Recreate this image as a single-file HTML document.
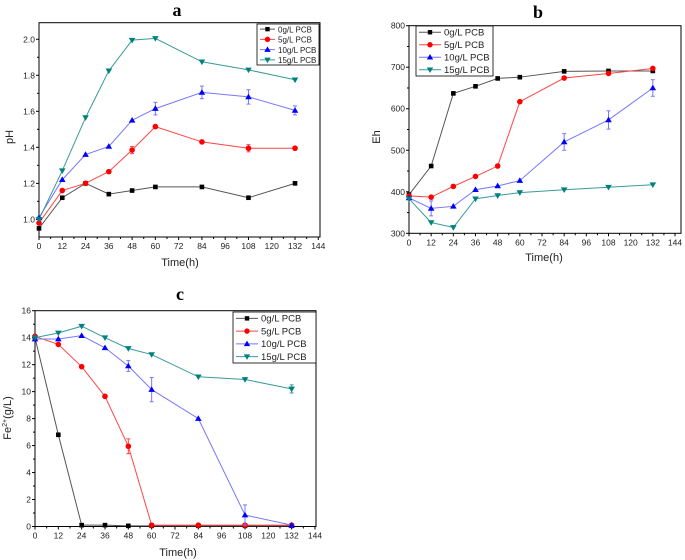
<!DOCTYPE html>
<html><head><meta charset="utf-8"><style>
body{margin:0;background:#fff;width:685px;height:560px;overflow:hidden}
svg{position:absolute;left:0;top:0}
text{font-family:"Liberation Sans",sans-serif}
</style></head><body>
<svg id="fig" width="685" height="560"></svg>
<script>
const timesH=[0,12,24,36,48,60,84,108,132];
const seriesNames=["0g/L PCB","5g/L PCB","10g/L PCB","15g/L PCB"];
const phVals=[[0.95,1.12,1.20,1.14,1.16,1.18,1.18,1.12,1.20],[0.98,1.16,1.20,1.265,1.385,1.515,1.43,1.395,1.395],[1.01,1.22,1.36,1.405,1.55,1.615,1.705,1.68,1.605],[1.00,1.27,1.565,1.825,1.995,2.005,1.875,1.83,1.775]];
const phErr=[[0,0,0,0,0,0,0,0,0],[0,0,0,0,0.02,0,0,0.02,0],[0,0,0,0,0,0.035,0.035,0.04,0.025],[0,0,0,0,0,0,0,0,0]];
const ehVals=[[393,462,637,654,673,676,690,691,691],[390,387,413,437,462,617,674,685,697],[385,360,365,405,414,427,520,573,650],[383,326,314,383,391,398,405,411,417]];
const ehErr=[[0,0,0,0,0,0,0,0,0],[0,0,0,0,0,0,0,0,0],[0,18,0,0,0,0,20,22,20],[0,0,0,0,0,0,0,0,0]];
const feVals=[[14,6.8,0.1,0.1,0.05,0.05,0.05,0.05,0.05],[14.1,13.5,11.85,9.65,5.95,0.1,0.1,0.1,0.1],[13.9,13.9,14.15,13.25,11.9,10.15,8.0,0.85,0.1],[14.0,14.35,14.85,14.0,13.2,12.75,11.1,10.9,10.2]];
const feErr=[[0,0,0,0,0,0,0,0,0],[0,0,0,0,0.55,0,0,0,0],[0,0,0,0,0.4,0.9,0,0.75,0],[0,0,0,0,0,0,0,0,0.3]];
const xTicks=[0,12,24,36,48,60,72,84,96,108,120,132,144];
const phTicks=[1.0,1.2,1.4,1.6,1.8,2.0];
const ehTicks=[300,400,500,600,700,800];
const feTicks=[0,2,4,6,8,10,12,14,16];
const phTickLabels=["1.0","1.2","1.4","1.6","1.8","2.0"];

const NS="http://www.w3.org/2000/svg";
const svg=document.getElementById('fig');
const markerCol=["#000","#f00","#00f","#008080"];
const lineCol=["#555","#f44","#77f","#3a9a9a"];
function el(tag,attrs,parent){const e=document.createElementNS(NS,tag);for(const k in attrs)e.setAttribute(k,attrs[k]);(parent||svg).appendChild(e);return e;}
function marker(g,i,x,y,s){
  let m;
  if(i===0)m=el('rect',{x:x-s,y:y-s,width:2*s,height:2*s,fill:markerCol[0]},g);
  else if(i===1)m=el('circle',{cx:x,cy:y,r:s+0.5,fill:markerCol[1]},g);
  else if(i===2)m=el('polygon',{points:`${x},${y-s-1} ${x-s-1},${y+s} ${x+s+1},${y+s}`,fill:markerCol[2]},g);
  else m=el('polygon',{points:`${x},${y+s+1} ${x-s-1},${y-s} ${x+s+1},${y-s}`,fill:markerCol[3]},g);
  return m;
}
function chart(o){
  const g=el('g',{});
  
  
  const X=v=>o.x0+(v-0)/(o.xmax)*(o.x1-o.x0);
  const Y=v=>o.yb-(v-o.ymin)/(o.ymax-o.ymin)*(o.yb-o.yt);
  const box=el('rect',{x:o.x0,y:o.yt,width:o.bx1-o.x0,height:o.yb-o.yt,fill:"none",stroke:"#000","stroke-width":1},g);
  
  xTicks.forEach((t,k)=>{const px=X(t);
    el('line',{x1:px,x2:px,y1:o.yb,y2:o.yb+3,stroke:"#000"},g);
    if(k<xTicks.length-1){const m=X(t+6);el('line',{x1:m,x2:m,y1:o.yb,y2:o.yb+2,stroke:"#000"},g);}
    const tl=el('text',{x:px,y:o.yb+12,"font-size":8.5,"text-anchor":"middle",fill:"#222"},g);tl.textContent=t;
    
  });
  o.yTicks.forEach((t,k)=>{const py=Y(t);
    el('line',{x1:o.x0-3,x2:o.x0,y1:py,y2:py,stroke:"#000"},g);
    if(k<o.yTicks.length-1){const m=Y((t+o.yTicks[k+1])/2);el('line',{x1:o.x0-2,x2:o.x0,y1:m,y2:m,stroke:"#000"},g);}
    const tl=el('text',{x:o.x0-4,y:py+3,"font-size":8.5,"text-anchor":"end",fill:"#222"},g);tl.textContent=o.yLabels?o.yLabels[k]:t;
    
  });
  const xt=el('text',{x:o.xlx,y:o.xly,"font-size":11,"text-anchor":"middle",fill:"#222"},g);xt.textContent="Time(h)";
  
  const yt=el('text',{x:0,y:0,"font-size":11,"text-anchor":"middle",fill:"#222",transform:`translate(${o.ylx},${o.yly}) rotate(-90)`},g);
  yt.innerHTML=o.ylabel;
  
  const tt=el('text',{x:o.tx,y:o.ty,"font-size":18,"font-weight":"bold","text-anchor":"middle",style:"font-family:'Liberation Serif',serif"},g);tt.textContent=o.title;
  
  o.vals.forEach((sv,i)=>{
    const pts=sv.map((v,j)=>`${X(timesH[j])},${Y(v)}`).join(' ');
    const pl=el('polyline',{points:pts,fill:"none",stroke:lineCol[i],"stroke-width":1},g);
    
    sv.forEach((v,j)=>{const e=o.err[i][j];
      if(e>0){const px=X(timesH[j]);
        el('line',{x1:px,x2:px,y1:Y(v+e),y2:Y(v-e),stroke:lineCol[i]},g);
        el('line',{x1:px-2,x2:px+2,y1:Y(v+e),y2:Y(v+e),stroke:lineCol[i]},g);
        el('line',{x1:px-2,x2:px+2,y1:Y(v-e),y2:Y(v-e),stroke:lineCol[i]},g);}
      const m=marker(g,i,X(timesH[j]),Y(v),2.3);
      
    });
  });
  const L=o.leg;
  const lb=el('rect',{x:L.x,y:L.y,width:L.w,height:L.h,fill:"#fff",stroke:"#000","stroke-width":0.8},g);
  
  const rh=L.h/4;
  seriesNames.forEach((n,i)=>{const cy=L.y+rh*(i+0.5);
    el('line',{x1:L.x+3,x2:L.x+L.sw,y1:cy,y2:cy,stroke:lineCol[i]},g);
    marker(g,i,L.x+3+(L.sw-3)/2,cy,2.2);
    const t=el('text',{x:L.x+L.sw+3,y:cy+3.3,"font-size":L.fs,fill:"#222"},g);t.textContent=n;
    
  });
}
chart({name:'ph-chart',x0:39,x1:318.3,bx1:320,xmax:144,yt:22.7,yb:237,ymin:0.902,ymax:2.092,yTicks:phTicks,yLabels:phTickLabels,
  vals:phVals,err:phErr,title:'a',tx:177,ty:16,ylabel:'pH',ylx:13,yly:137,xlx:180,xly:266,
  leg:{x:257,y:24,w:62,h:41,sw:18,fs:8}});
chart({name:'eh-chart',x0:409,x1:675,bx1:681,xmax:144,yt:25.7,yb:233.3,ymin:300,ymax:800,yTicks:ehTicks,
  vals:ehVals,err:ehErr,title:'b',tx:538,ty:18,ylabel:'Eh',ylx:380,yly:137,xlx:544,xly:261,
  leg:{x:416,y:26,w:77,h:50,sw:25,fs:9.5}});
chart({name:'fe-chart',x0:35,x1:315,bx1:316,xmax:144,yt:310.7,yb:526.5,ymin:0,ymax:16,yTicks:feTicks,
  vals:feVals,err:feErr,title:'c',tx:180,ty:300,ylabel:'Fe<tspan font-size="7" dy="-4">2+</tspan><tspan dy="4">(g/L)</tspan>',ylx:11,yly:418,xlx:178,xly:556,
  leg:{x:233,y:312,w:83,h:51,sw:25,fs:9.5}});
</script>
</body></html>
